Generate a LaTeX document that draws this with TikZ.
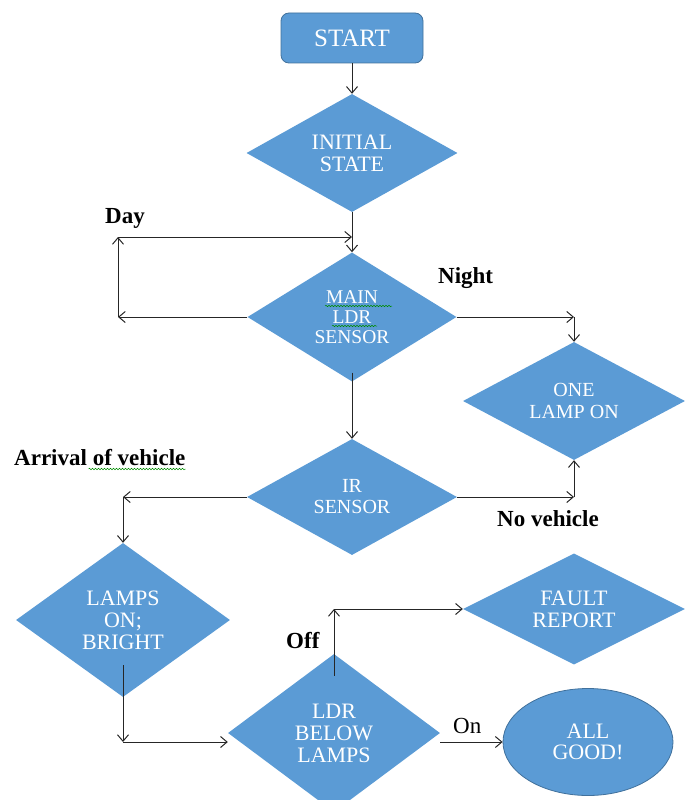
\documentclass[tikz,border=0pt]{standalone}
\usepackage{fontspec}
\setmainfont{Liberation Serif}
\usetikzlibrary{arrows.meta,calc,shapes.geometric,decorations.pathmorphing}
\definecolor{blu}{HTML}{5B9BD5}
\definecolor{blud}{HTML}{41719C}
\tikzset{
  trm/.style={rectangle,rounded corners=8pt,draw=blud,fill=blu,line width=.8pt,text=white,
    minimum width=142pt,minimum height=50pt,inner sep=0pt,font=\fontsize{25}{25}\selectfont},
  dec/.style={diamond,fill=blu,text=white,inner sep=0pt,aspect=1.5,align=center,
    font=\fontsize{22}{22}\selectfont},
  decs/.style={dec,font=\fontsize{19.5}{20}\selectfont},
  fin/.style={ellipse,draw=blud,fill=blu,line width=.8pt,text=white,inner sep=0pt,align=center,
    minimum width=170pt,minimum height=107pt,font=\fontsize{22}{21}\selectfont},
  msg/.style={-{Straight Barb[length=6.5pt,width=11pt]},line width=1pt,draw=black!85},
  lb/.style={font=\fontsize{23}{23}\selectfont\bfseries,inner sep=0pt,anchor=base west},
  lbn/.style={lb,font=\fontsize{23}{23}\selectfont},
  % spell-check marks as they show in the picture
  sq/.style={draw=green!55!black,line width=.5pt,decorate,
    decoration={snake,amplitude=.7pt,segment length=3pt}},
}

\begin{document}
\begin{tikzpicture}[x=1pt,y=-1pt]
\useasboundingbox (0,0) rectangle (686,800);
% blocks
\node[trm] (start) at (352,38) {START};
\node[dec,minimum width=211pt,minimum height=118pt] (init) at (352,153) {INITIAL\\STATE};
\node[decs,minimum width=209pt,minimum height=129pt] (main) at (352,317) {MAIN\\LDR\\SENSOR};
\node[dec,font=\fontsize{20}{22}\selectfont,minimum width=222pt,minimum height=118pt] (one) at (574,401) {ONE\\LAMP ON};
\node[dec,font=\fontsize{20}{21}\selectfont,minimum width=210pt,minimum height=116pt] (ir) at (352,497) {IR\\SENSOR};
\node[dec,minimum width=214pt,minimum height=154pt] (lamps) at (123,620) {LAMPS\\ON;\\BRIGHT};
\node[dec,minimum width=222pt,minimum height=111pt] (fault) at (574,609) {FAULT\\REPORT};
\node[dec,minimum width=212pt,minimum height=158pt] (ldr) at (334,733) {LDR\\BELOW\\LAMPS};
\node[fin] (good) at (588,742) {ALL\\GOOD!};
% bends
\coordinate (dayL) at (118,317);
\coordinate (dayT) at (118,237);
\coordinate (dayJ) at (352,237);
\coordinate (ngt) at (main.east -| one.north);
\coordinate (arv) at (ir.west -| lamps.north);
\coordinate (nov) at (ir.east -| one.south);
\coordinate (lmp) at (123,742);
\coordinate (off) at (ldr.north |- fault.west);
% flow
\draw[msg] (start) -- (init);
\draw[msg] (init) -- (main);
\draw[msg] (main.west) -- (dayL);
\draw[msg] (dayL) -- (dayT);
\draw[msg] (dayT) -- (dayJ);
\draw[msg] (main.east) -- (ngt);
\draw[msg] (ngt) -- (one.north);
\draw[msg] ($(main.south)+(0,-9)$) -- (ir.north);
\draw[msg] (ir.west) -- (arv);
\draw[msg] (arv) -- (lamps.north);
\draw[msg] (ir.east) -- (nov);
\draw[msg] (nov) -- (one.south);
\draw[msg] ($(lamps.south)+(0,-32)$) -- (lmp);
\draw[msg] (lmp) -- (lmp -| ldr.west);
\draw[msg] ($(ldr.north)+(0,22)$) -- (off);
\draw[msg] (off) -- (fault.west);
\draw[msg] (good.west -| ldr.east) -- (good.west);
% labels
\node[lb] (day) at (105,223) {Day};
\node[lb] (night) at (438,283) {Night};
\node[lb] (arr) at (14,465) {Arrival of vehicle};
\node[lb] (nvl) at (497,526) {No vehicle};
\node[lb] (offl) at (286,648) {Off};
\node[lbn] (onl) at (453,733) {On};
\draw[sq] ($(main.center)+(-27,-11)$) -- +(67,0);
\draw[sq] ($(main.center)+(-20,9)$) -- +(45,0);
\draw[sq] ($(arr.base east)+(-97,4)$) -- +(97,0);
\end{tikzpicture}
\end{document}
